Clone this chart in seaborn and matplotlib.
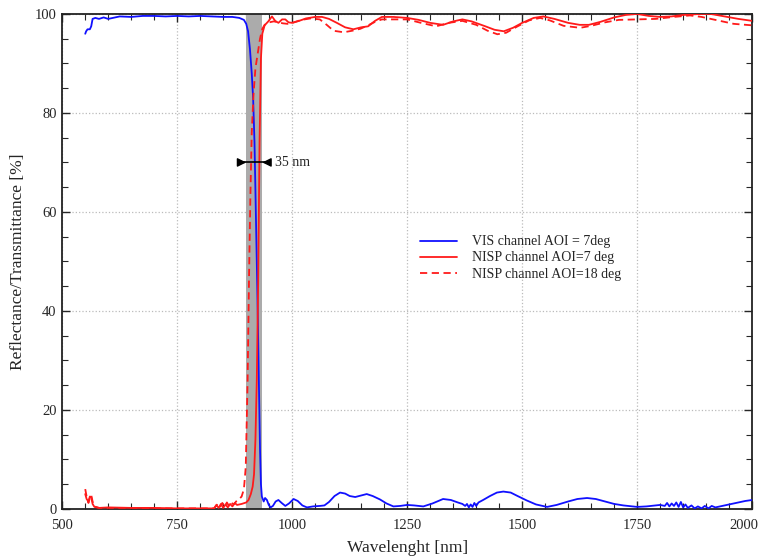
import numpy as np
import pandas as pd
import matplotlib
matplotlib.use("Agg")
import matplotlib.pyplot as plt
import matplotlib.transforms as mtransforms
import seaborn as sns
from matplotlib.ticker import MultipleLocator

# VIS channel, AOI = 7 deg
vis_wl = [550, 552, 555, 560, 563, 566, 572, 580, 590, 600, 610, 625, 650, 675, 700,
          725, 750, 775, 800, 825, 850, 870, 885, 895, 900, 904, 908, 912, 915, 918,
          921, 924, 927, 930, 932, 934, 936, 938, 941, 945, 949, 953, 958, 964, 970,
          977, 985, 993, 1003, 1012, 1022, 1032, 1045, 1060, 1070, 1080, 1092, 1104,
          1115, 1125, 1137, 1150, 1162, 1175, 1191, 1205, 1220, 1235, 1250, 1265,
          1285, 1305, 1328, 1345, 1360, 1370, 1376, 1380, 1384, 1388, 1392, 1396,
          1400, 1405, 1415, 1430, 1445, 1459, 1475, 1490, 1510, 1530, 1554, 1575,
          1600, 1620, 1641, 1660, 1680, 1700, 1720, 1750, 1770, 1790, 1800, 1810,
          1815, 1820, 1825, 1830, 1835, 1840, 1845, 1850, 1855, 1860, 1868, 1875,
          1882, 1890, 1897, 1905, 1912, 1920, 1935, 1950, 1970, 1985, 2000]
vis_val = [96.0, 96.5, 96.9, 96.9, 97.5, 99.0, 99.2, 99.0, 99.3, 99.0, 99.2, 99.5, 99.4,
           99.6, 99.6, 99.5, 99.6, 99.5, 99.6, 99.5, 99.4, 99.4, 99.2, 98.8, 98.0, 96.5,
           93.0, 88.0, 83.0, 74.0, 60.0, 45.0, 28.0, 12.0, 5.0, 2.5, 2.0, 1.5, 2.2, 1.8,
           0.8, 0.3, 0.6, 1.5, 1.8, 1.2, 0.6, 1.1, 2.0, 1.6, 0.7, 0.3, 0.5, 0.6, 0.7,
           1.4, 2.6, 3.3, 3.1, 2.6, 2.4, 2.7, 3.0, 2.6, 1.9, 1.1, 0.5, 0.6, 0.8, 0.7,
           0.5, 1.1, 2.0, 1.8, 1.3, 1.0, 0.6, 1.0, 0.3, 0.9, 0.4, 1.2, 0.6, 1.3, 1.8,
           2.6, 3.3, 3.5, 3.3, 2.6, 1.7, 0.9, 0.4, 0.8, 1.5, 2.0, 2.2, 2.0, 1.5, 1.0,
           0.7, 0.4, 0.5, 0.7, 0.8, 0.6, 1.2, 0.5, 1.1, 0.6, 1.3, 0.4, 1.4, 0.3, 0.9,
           0.2, 0.7, 0.1, 0.5, 0.1, 0.6, 0.1, 0.6, 0.3, 0.6, 0.9, 1.3, 1.6, 1.8]

# NISP channel, AOI = 7 deg
nisp7_wl = [550, 553, 557, 560, 563, 566, 570, 580, 600, 650, 700, 750, 800, 830, 835,
            840, 845, 850, 855, 860, 865, 870, 875, 880, 890, 900, 905, 910, 914, 917,
            920, 923, 926, 929, 932, 935, 940, 948, 956, 963, 970, 978, 985, 992, 1000,
            1015, 1030, 1050, 1065, 1080, 1097, 1115, 1133, 1150, 1165, 1180, 1195,
            1220, 1250, 1275, 1300, 1328, 1350, 1370, 1390, 1420, 1440, 1460, 1480,
            1500, 1525, 1546, 1570, 1600, 1625, 1645, 1670, 1700, 1725, 1750, 1775,
            1800, 1825, 1850, 1887, 1910, 1940, 1970, 2000]
nisp7_val = [3.0, 2.0, 1.5, 2.5, 2.4, 1.0, 0.4, 0.2, 0.3, 0.2, 0.2, 0.1, 0.1, 0.1, 0.8,
             0.2, 1.0, 0.2, 0.9, 0.3, 1.0, 0.5, 1.2, 0.8, 1.0, 1.3, 1.8, 3.0, 4.5, 7.0,
             14.0, 26.0, 46.0, 74.0, 91.0, 96.0, 97.7, 98.5, 99.5, 98.6, 98.2, 98.9,
             98.9, 98.3, 98.2, 98.6, 99.1, 99.4, 99.4, 99.0, 98.2, 97.3, 96.9, 97.3,
             97.5, 98.6, 99.4, 99.4, 99.2, 98.8, 98.2, 97.8, 98.5, 98.9, 98.5, 97.5,
             96.8, 96.5, 97.2, 98.2, 99.2, 99.5, 99.0, 98.2, 97.8, 97.8, 98.4, 99.3,
             99.8, 100.0, 99.6, 99.4, 99.5, 99.8, 100.0, 100.0, 99.5, 99.0, 98.6]

# NISP channel, AOI = 18 deg
nisp18_wl = [550, 553, 557, 560, 563, 566, 570, 580, 600, 650, 700, 750, 800, 830, 838,
             842, 848, 853, 858, 863, 868, 873, 878, 883, 890, 895, 899, 903, 906, 909,
             912, 916, 920, 925, 930, 935, 940, 950, 960, 970, 980, 990, 1000, 1020,
             1040, 1060, 1075, 1090, 1112, 1130, 1148, 1165, 1180, 1195, 1220, 1250,
             1280, 1313, 1340, 1370, 1400, 1425, 1446, 1465, 1490, 1515, 1539, 1560,
             1590, 1626, 1650, 1680, 1710, 1750, 1790, 1830, 1865, 1890, 1920, 1960, 2000]
nisp18_val = [4.0, 2.5, 1.2, 2.2, 2.8, 1.5, 0.5, 0.2, 0.2, 0.2, 0.1, 0.1, 0.1, 0.1, 1.0,
              0.3, 1.2, 0.4, 1.3, 0.5, 1.2, 0.9, 1.5, 1.8, 2.5, 4.0, 8.5, 26.0, 46.0,
              63.0, 76.0, 84.0, 89.0, 92.0, 95.0, 97.0, 97.8, 98.3, 98.5, 98.3, 98.1,
              98.0, 98.2, 98.8, 99.1, 98.9, 97.8, 96.6, 96.3, 96.6, 97.0, 97.7, 98.4,
              98.9, 98.9, 98.9, 98.2, 97.5, 98.2, 98.6, 97.8, 96.6, 95.9, 96.2, 97.5,
              98.7, 99.2, 98.7, 97.6, 97.2, 97.6, 98.3, 98.8, 98.9, 99.0, 99.4, 99.7,
              99.4, 98.8, 98.0, 97.7]

band_lo, band_hi = 900, 935
x_ticks = [500, 750, 1000, 1250, 1500, 1750, 2000]
y_ticks = [0, 20, 40, 60, 80, 100]

sns.set_style("ticks")
plt.rcParams['font.family'] = ['Liberation Serif', 'DejaVu Serif']

fig = plt.figure(figsize=(7.59, 5.58), dpi=100)
ax = fig.add_axes([0.082, 0.088, 0.909, 0.887])

ax.axvspan(band_lo, band_hi, color='#ababab', lw=0, zorder=1)

sns.lineplot(x=vis_wl, y=vis_val, ax=ax, color='#1010ff', lw=1.3,
             label='VIS channel AOI = 7deg', estimator=None, sort=False, zorder=3)
sns.lineplot(x=nisp7_wl, y=nisp7_val, ax=ax, color='#ff1a1a', lw=1.3,
             label='NISP channel AOI=7 deg', estimator=None, sort=False, zorder=3)
sns.lineplot(x=nisp18_wl, y=nisp18_val, ax=ax, color='#ff1a1a', lw=1.3,
             ls=(0, (4, 2.5)), label='NISP channel AOI=18 deg',
             estimator=None, sort=False, zorder=3)

# 35 nm width marker
ax.plot([884, 952], [70, 70], color='black', lw=1.2, zorder=4)
ax.annotate('', xy=(band_lo, 70), xytext=(884, 70),
            arrowprops=dict(arrowstyle='-|>', color='black', lw=1.0,
                            mutation_scale=13, shrinkA=0, shrinkB=0), zorder=4)
ax.annotate('', xy=(band_hi, 70), xytext=(952, 70),
            arrowprops=dict(arrowstyle='-|>', color='black', lw=1.0,
                            mutation_scale=13, shrinkA=0, shrinkB=0), zorder=4)
ax.text(963, 70, '35 nm', fontsize=10, va='center', ha='left')

ax.set_xlim(500, 2000)
ax.set_ylim(0, 100)
ax.set_xticks(x_ticks)
ax.set_yticks(y_ticks)
ax.xaxis.set_minor_locator(MultipleLocator(50))
ax.yaxis.set_minor_locator(MultipleLocator(5))
ax.tick_params(which='both', direction='in', top=True, right=True, labelsize=10.5)
ax.tick_params(which='major', length=6, width=1)
ax.tick_params(which='minor', length=4, width=0.8)
ax.tick_params(axis='x', which='major', pad=7)
ax.tick_params(axis='y', which='major', pad=4)
ax.grid(True, which='major', ls=':', color='#bbbbbb', lw=0.9)
for sp in ax.spines.values():
    sp.set_linewidth(1.3)
    sp.set_color('#222222')

# keep the last x label inside the figure
last = ax.get_xticklabels()[-1]
last.set_transform(last.get_transform() +
                   mtransforms.ScaledTranslation(-0.08, 0, fig.dpi_scale_trans))

ax.set_xlabel('Wavelenght [nm]', fontsize=12.5, labelpad=6)
ax.set_ylabel('Reflectance/Transmittance [%]', fontsize=12.5, labelpad=6)

ax.legend(loc='center left', bbox_to_anchor=(0.5, 0.507), frameon=False,
          fontsize=10, handlelength=2.7, handletextpad=1.1, labelspacing=0.22)

fig.savefig('out.png', dpi=100)
